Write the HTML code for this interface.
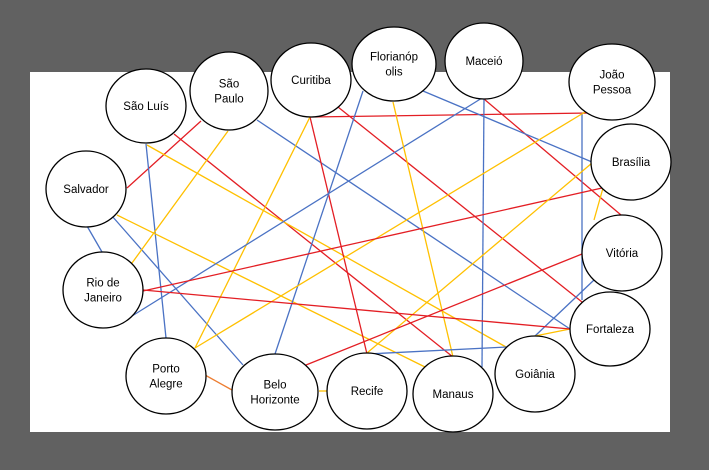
<!DOCTYPE html>
<html><head><meta charset="utf-8">
<style>
body{margin:0;width:709px;height:470px;background:#616161;overflow:hidden}
svg{display:block}
text{font-family:"Liberation Sans",sans-serif;font-size:11.5px;fill:#000}
</style></head>
<body>
<svg id="g" width="709" height="470">
<rect x="30" y="72" width="640" height="360" fill="#fff"/>
</svg>
<script>
const nodeNames=["São Luís","São Paulo","Curitiba","Florianópolis","Maceió","João Pessoa","Brasília","Salvador","Vitória","Rio de Janeiro","Fortaleza","Porto Alegre","Belo Horizonte","Recife","Manaus","Goiânia"];
const nodeLabels=[["São Luís"],["São","Paulo"],["Curitiba"],["Florianóp","olis"],["Maceió"],["João","Pessoa"],["Brasília"],["Salvador"],["Vitória"],["Rio de","Janeiro"],["Fortaleza"],["Porto","Alegre"],["Belo","Horizonte"],["Recife"],["Manaus"],["Goiânia"]];
const nodeX=[146,229,311,394,484,612,631,86,622,103,610,166,275,367,453,535];
const nodeY=[106,91,80,64,61,82,162,189,253,290,329,376,392,391,394,374];
const nodeRx=[40,39,40,42,39,43,40,40,40,40,40,40,43,40,40,40];
const nodeRy=[37,39,37,37,38,38,38,38,38,38,37,38,38,38,38,38];
const edgeFrom=["Salvador","São Luís","São Luís","São Luís","Salvador","Salvador","Salvador","São Paulo","São Paulo","Curitiba","Curitiba","Curitiba","Curitiba","Maceió","Maceió","Maceió","Florianópolis","Florianópolis","Florianópolis","João Pessoa","João Pessoa","Brasília","Brasília","Brasília","Vitória","Vitória","Goiânia","Rio de Janeiro","Recife","Porto Alegre","Belo Horizonte"];
const edgeTo=["São Paulo","Manaus","Porto Alegre","Goiânia","Manaus","Belo Horizonte","Rio de Janeiro","Fortaleza","Rio de Janeiro","João Pessoa","Recife","Porto Alegre","Fortaleza","Vitória","Manaus","Rio de Janeiro","Manaus","Belo Horizonte","Brasília","Fortaleza","Porto Alegre","Rio de Janeiro","Recife","Vitória","Belo Horizonte","Goiânia","Fortaleza","Fortaleza","Goiânia","Belo Horizonte","Recife"];
const edgeColor=["red","red","blue","yellow","yellow","blue","blue","blue","yellow","red","red","yellow","red","red","blue","blue","yellow","blue","blue","blue","yellow","red","yellow","yellow","red","blue","yellow","red","blue","orange","yellow"];
// attachment points (where each edge meets the ellipse rim)
const edgeX1=[127,174,146,147,117,112,87,257,228,310,310,310,338,484,484,482,393,363,423,582,590,602,592,603,582,594,535,143,367,205,319];
const edgeY1=[188,134,144,145,215,216,226,120,131,117,117,117,107,99,99,98,102,91,91,113,109,188,163,188,254,280,336,290,354,375,391];
const edgeX2=[201,453,166,506,425,243,102,570,132,590,367,195,582,621,482,132,453,275,592,582,195,143,367,594,306,535,570,570,507,232,327];
const edgeY2=[121,357,338,347,367,365,252,329,263,113,354,348,302,215,367,316,357,354,162,300,348,291,353,220,365,336,329,329,347,390,391];

const colorMap={red:"#e31e24",blue:"#4a72c4",yellow:"#ffc000",orange:"#ed7d31"};
const NS="http://www.w3.org/2000/svg";
const svg=document.getElementById("g");
for(let i=0;i<edgeFrom.length;i++){
  const l=document.createElementNS(NS,"line");
  l.setAttribute("x1",edgeX1[i]);l.setAttribute("y1",edgeY1[i]);
  l.setAttribute("x2",edgeX2[i]);l.setAttribute("y2",edgeY2[i]);
  l.setAttribute("stroke",colorMap[edgeColor[i]]);
  l.setAttribute("stroke-width","1.3");
  
  
  svg.appendChild(l);
}
for(let i=0;i<nodeNames.length;i++){
  const g=document.createElementNS(NS,"g");
  
  
  const e=document.createElementNS(NS,"ellipse");
  e.setAttribute("cx",nodeX[i]);e.setAttribute("cy",nodeY[i]);
  e.setAttribute("rx",nodeRx[i]);e.setAttribute("ry",nodeRy[i]);
  e.setAttribute("fill","#fff");e.setAttribute("stroke","#000");e.setAttribute("stroke-width","1.3");
  
  
  g.appendChild(e);
  const lines=nodeLabels[i];
  const lh=15;
  const y0=nodeY[i]-(lines.length-1)*lh/2+4;
  lines.forEach((s,k)=>{
    const t=document.createElementNS(NS,"text");
    t.setAttribute("x",nodeX[i]);t.setAttribute("y",y0+k*lh);
    t.setAttribute("text-anchor","middle");
    t.textContent=s;
    
    
    g.appendChild(t);
  });
  svg.appendChild(g);
}
</script>
</body></html>
